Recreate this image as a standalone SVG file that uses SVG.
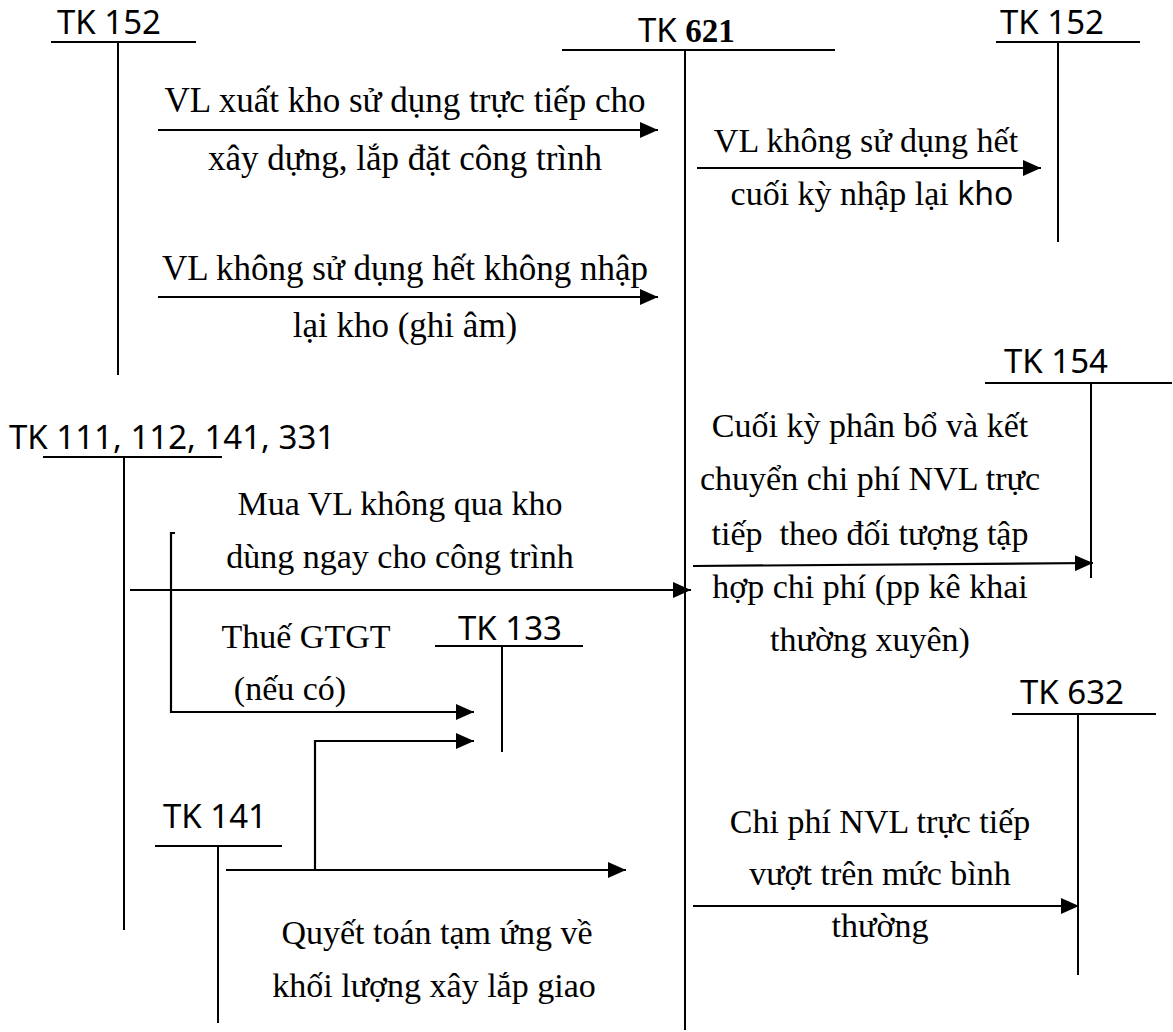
<svg xmlns="http://www.w3.org/2000/svg" width="1173" height="1032" viewBox="0 0 1173 1032">
<defs>
<marker id="ah" markerUnits="userSpaceOnUse" markerWidth="18" markerHeight="16" refX="18" refY="8" orient="auto">
<path d="M0,0 L18,8 L0,16 Z" fill="#000"/>
</marker>
</defs>
<style>
.ax{stroke:#000;stroke-width:2;fill:none}
.ar{stroke:#000;stroke-width:2.2;fill:none}
.sans{font-family:"Noto Sans","Open Sans","DejaVu Sans",sans-serif;font-size:33px;fill:#000}
.serif{font-family:"Liberation Serif","Times New Roman",serif;font-size:34px;fill:#000}
.big{font-size:35px}
.m{text-anchor:middle}
</style>
<rect width="1173" height="1032" fill="#fff"/>

<g id="tk152a">
<text class="sans" x="57" y="34">TK 152</text>
<line class="ax" x1="51" y1="42" x2="196" y2="42"/>
<line class="ax" x1="118" y1="42" x2="118" y2="375"/>
</g>

<g id="tk621">
<text class="sans" x="638" y="42">TK <tspan font-family="Liberation Serif, serif" font-weight="bold" font-size="33">621</tspan></text>
<line class="ax" x1="562" y1="50" x2="835" y2="50"/>
<line class="ax" x1="685" y1="50" x2="685" y2="1030"/>
</g>

<g id="tk152b">
<text class="sans" x="1000" y="34">TK 152</text>
<line class="ax" x1="996" y1="42" x2="1140" y2="42"/>
<line class="ax" x1="1058" y1="42" x2="1058" y2="242"/>
</g>

<g id="tk154">
<text class="sans" x="1004" y="373">TK 154</text>
<line class="ax" x1="985" y1="383" x2="1172" y2="383"/>
<line class="ax" x1="1091" y1="383" x2="1091" y2="578"/>
</g>

<g id="tk111">
<text class="sans" x="9" y="449">TK 111, 112, 141, 331</text>
<line class="ax" x1="43" y1="457" x2="222" y2="457"/>
<line class="ax" x1="124" y1="457" x2="124" y2="930"/>
</g>

<g id="tk133">
<text class="sans" x="458" y="640">TK 133</text>
<line class="ax" x1="435" y1="646" x2="583" y2="646"/>
<line class="ax" x1="502" y1="646" x2="502" y2="752"/>
</g>

<g id="tk632">
<text class="sans" x="1020" y="704">TK 632</text>
<line class="ax" x1="1012" y1="714" x2="1156" y2="714"/>
<line class="ax" x1="1078" y1="714" x2="1078" y2="975"/>
</g>

<g id="tk141">
<text class="sans" x="163" y="828">TK 141</text>
<line class="ax" x1="155" y1="846" x2="282" y2="846"/>
<line class="ax" x1="218" y1="846" x2="218" y2="1023"/>
</g>

<g id="connectors">
<line class="ar" x1="158" y1="130" x2="658" y2="130" marker-end="url(#ah)"/>
<line class="ar" x1="158" y1="297" x2="658" y2="297" marker-end="url(#ah)"/>
<line class="ar" x1="697" y1="168" x2="1041" y2="168" marker-end="url(#ah)"/>
<line class="ar" x1="693" y1="566" x2="1093" y2="563" marker-end="url(#ah)"/>
<line class="ar" x1="130" y1="590" x2="691" y2="590" marker-end="url(#ah)"/>
<polyline class="ar" points="175,533 171,533 171,712 474,712" marker-end="url(#ah)"/>
<polyline class="ar" points="315,870 315,741 474,741" marker-end="url(#ah)"/>
<line class="ar" x1="226" y1="870" x2="626" y2="870" marker-end="url(#ah)"/>
<line class="ar" x1="693" y1="906" x2="1079" y2="906" marker-end="url(#ah)"/>
</g>

<g id="labels">
<text class="serif big m" x="405" y="112">VL xuất kho sử dụng trực tiếp cho</text>
<text class="serif big m" x="405" y="170">xây dựng, lắp đặt công trình</text>
<text class="serif big m" x="405" y="280">VL không sử dụng hết không nhập</text>
<text class="serif big m" x="405" y="337">lại kho (ghi âm)</text>
<text class="serif m" x="866" y="152">VL không sử dụng hết</text>
<text class="serif m" x="872" y="205">cuối kỳ nhập lại <tspan font-family="Noto Sans, Open Sans, sans-serif" font-size="32">kho</tspan></text>
<text class="serif m" x="870" y="437">Cuối kỳ phân bổ và kết</text>
<text class="serif m" x="870" y="490">chuyển chi phí NVL trực</text>
<text class="serif m" x="870" y="545" xml:space="preserve">tiếp  theo đối tượng tập</text>
<text class="serif m" x="870" y="598">hợp chi phí (pp kê khai</text>
<text class="serif m" x="870" y="651">thường xuyên)</text>
<text class="serif m" x="400" y="515">Mua VL không qua kho</text>
<text class="serif m" x="400" y="568">dùng ngay cho công trình</text>
<text class="serif m" x="306" y="648">Thuế GTGT</text>
<text class="serif m" x="290" y="700">(nếu có)</text>
<text class="serif m" x="880" y="833">Chi phí NVL trực tiếp</text>
<text class="serif m" x="880" y="885">vượt trên mức bình</text>
<text class="serif m" x="880" y="937">thường</text>
<text class="serif m" x="437" y="944" font-size="33">Quyết toán tạm ứng về</text>
<text class="serif m" x="434" y="997" font-size="33">khối lượng xây lắp giao</text>
</g>
</svg>
